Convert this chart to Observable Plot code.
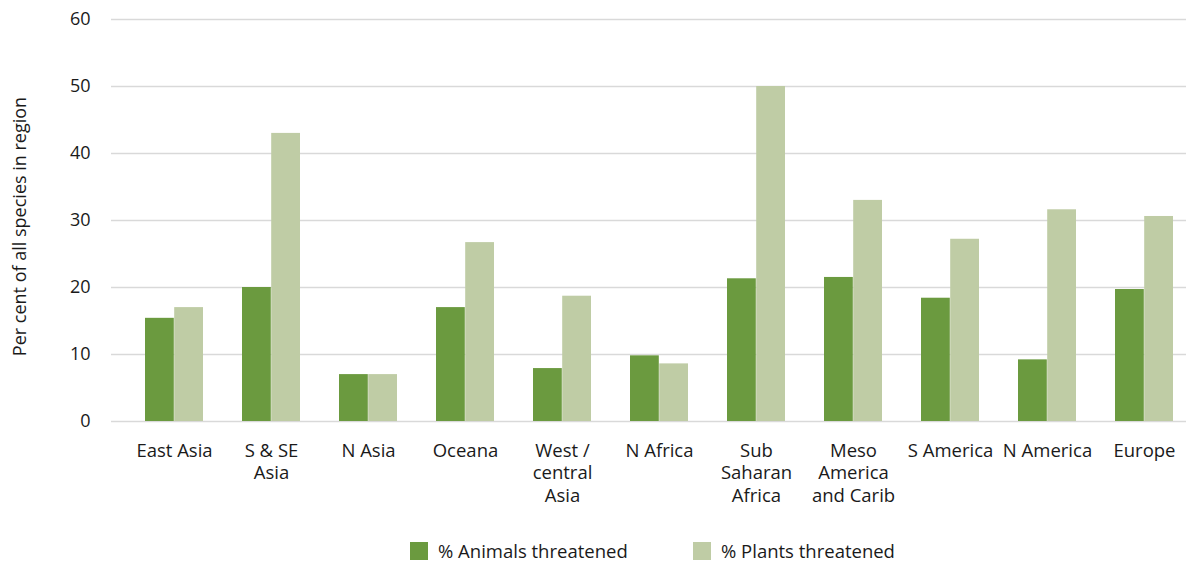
<!DOCTYPE html>
<html>
<head>
<meta charset="utf-8">
<script src="https://cdn.jsdelivr.net/npm/d3@7"></script>
<script src="https://cdn.jsdelivr.net/npm/@observablehq/plot@0.6"></script>
<style>
  html, body { margin: 0; padding: 0; background: #fff; }
  body { width: 1186px; height: 561px; overflow: hidden; font-family: "Open Sans", sans-serif; color: #1a1a1a; }
  #legend { position: relative; height: 36px; font-size: 18.5px; }
  .item { position: absolute; top: 13px; display: flex; align-items: center; }
  .sw { width: 18px; height: 18px; margin-right: 10px; }
</style>
</head>
<body>
<div id="chart"></div>
<div id="legend"></div>
<script>
const regions = ["East Asia", "S & SE\nAsia", "N Asia", "Oceana", "West /\ncentral\nAsia", "N Africa", "Sub\nSaharan\nAfrica", "Meso\nAmerica\nand Carib", "S America", "N America", "Europe"];
const animals = [15.4, 20.0, 7.0, 17.0, 7.9, 9.8, 21.3, 21.5, 18.4, 9.2, 19.7];
const plants  = [17.0, 43.0, 7.0, 26.7, 18.7, 8.6, 50.0, 33.0, 27.2, 31.6, 30.6];
const seriesNames = ["% Animals threatened", "% Plants threatened"];
const seriesColors = ["#6b9a3f", "#bfcca5"];
const yTicks = [0, 10, 20, 30, 40, 50, 60];

const animalData = regions.map((r, i) => ({region: r, value: animals[i]}));
const plantData = regions.map((r, i) => ({region: r, value: plants[i]}));

const half = 29.2;
const chart = Plot.plot({
  width: 1186,
  height: 525,
  marginLeft: 111,
  marginRight: 0,
  marginTop: 19,
  marginBottom: 104,
  style: {fontFamily: "'Open Sans', sans-serif", fontSize: "18px", color: "#1a1a1a", background: "#fff"},
  x: {domain: regions, range: [123.3, 1194.7], paddingInner: 0.4, paddingOuter: 0.2, label: null},
  y: {domain: [0, 60], ticks: yTicks, label: null},
  marks: [
    Plot.ruleY(yTicks, {stroke: "#d9d9d9", strokeWidth: 1.6}),
    Plot.barY(animalData, {x: "region", y: "value", fill: seriesColors[0], insetRight: half}),
    Plot.barY(plantData, {x: "region", y: "value", fill: seriesColors[1], insetLeft: half}),
    Plot.axisY({ticks: yTicks, tickSize: 0, tickPadding: 21, fontSize: 18, label: null}),
    Plot.axisX({tickSize: 0, tickPadding: 19, fontSize: 18.5, lineHeight: 1.22, label: null}),
    Plot.text(["Per cent of all species in region"], {frameAnchor: "left", textAnchor: "middle", dx: -91, dy: 6, rotate: -90, fontSize: 18, fill: "#1a1a1a"})
  ]
});
document.getElementById("chart").appendChild(chart);

const legend = document.getElementById("legend");
const lx = [410, 693];
seriesNames.forEach((name, i) => {
  const it = document.createElement("div");
  it.className = "item";
  it.style.left = lx[i] + "px";
  it.innerHTML = `<div class="sw" style="background:${seriesColors[i]}"></div><span>${name}</span>`;
  legend.appendChild(it);
});
</script>
</body>
</html>
